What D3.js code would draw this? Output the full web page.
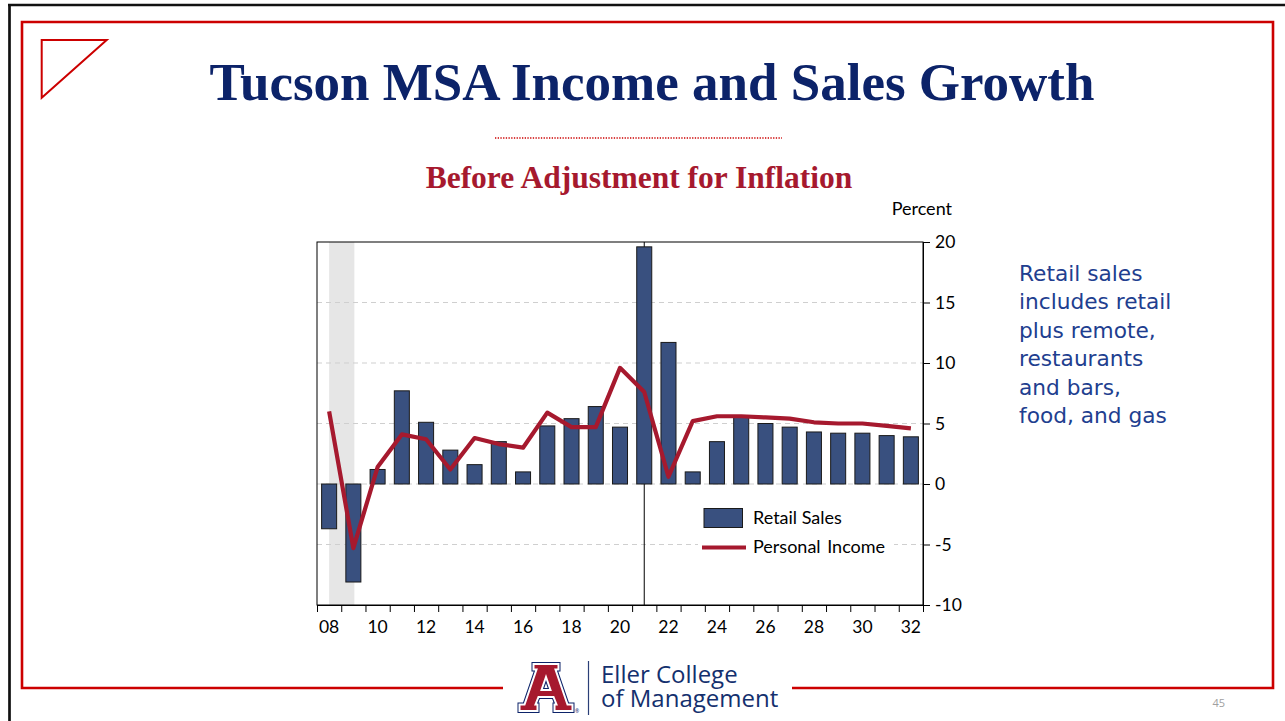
<!DOCTYPE html>
<html>
<head>
<meta charset="utf-8">
<script src="https://cdn.jsdelivr.net/npm/d3@7"></script>
<style>
  html, body { margin: 0; padding: 0; background: #fff; }
  svg { display: block; }
</style>
</head>
<body>
<svg id="slide" width="1285" height="721"></svg>
<script>
// Annual growth, percent (2008–2032; 2022 onward is forecast)
const years = d3.range(2008, 2033);
const retailSales = [-3.7, -8.1, 1.2, 7.7, 5.1, 2.8, 1.6, 3.5, 1.0, 4.8, 5.4, 6.4, 4.7,
  19.6, 11.7, 1.0, 3.5, 5.5, 5.0, 4.7, 4.3, 4.2, 4.2, 4.0, 3.9];
const personalIncome = [6.0, -5.3, 1.4, 4.1, 3.7, 1.2, 3.8, 3.3, 3.0, 5.9, 4.7, 4.7, 9.6,
  7.6, 0.6, 5.2, 5.6, 5.6, 5.5, 5.4, 5.1, 5.0, 5.0, 4.8, 4.6];
const yTicks = [-10, -5, 0, 5, 10, 15, 20];
const xLabelYears = d3.range(2008, 2033, 2);
const recession = [2008, 2009];
const forecastMark = 2021;
const notes = ["Retail sales", "includes retail", "plus remote,", "restaurants", "and bars,", "food, and gas"];
const wordmark = ["Eller College", "of Management"];

const NAVY = "#0c2369";
const CRIMSON = "#a6192e";
const FRAME_RED = "#cc0000";
const BAR = "#39507f";
const AXIS_FONT = "Lato, 'Open Sans', sans-serif";
const AXIS_SIZE = 17.5;

const svg = d3.select("#slide");

// ---- slide frame ----
svg.append("path")
  .attr("d", "M8,5 H1285 M9.5,5 V721")
  .attr("stroke", "#111").attr("stroke-width", 2.7).attr("fill", "none");

svg.append("path")
  .attr("d", "M503,688 H22 V22 H1273 V688 H792")
  .attr("stroke", FRAME_RED).attr("stroke-width", 2.6).attr("fill", "none");

svg.append("path")
  .attr("d", "M41.7,40 L106.7,40 L41.7,97.7 Z")
  .attr("stroke", FRAME_RED).attr("stroke-width", 2).attr("fill", "none");

// ---- titles ----
svg.append("text")
  .attr("x", 652).attr("y", 100)
  .attr("text-anchor", "middle")
  .attr("font-family", "'Liberation Serif', 'Times New Roman', serif")
  .attr("font-weight", "bold").attr("font-size", 53)
  .attr("fill", NAVY)
  .text("Tucson MSA Income and Sales Growth");

svg.append("line")
  .attr("x1", 495).attr("x2", 782).attr("y1", 138).attr("y2", 138)
  .attr("stroke", FRAME_RED).attr("stroke-width", 1.3)
  .attr("stroke-dasharray", "1.3,1.4");

svg.append("text")
  .attr("x", 639).attr("y", 188)
  .attr("text-anchor", "middle")
  .attr("font-family", "'Liberation Serif', 'Times New Roman', serif")
  .attr("font-weight", "bold").attr("font-size", 31.5)
  .attr("fill", CRIMSON)
  .text("Before Adjustment for Inflation");

// ---- chart ----
const plotLeft = 317, plotRight = 923, plotTop = 242, plotBottom = 605;

const x = d3.scaleBand().domain(years).range([plotLeft, plotRight]).padding(0);
const step = x.step();
const barW = step * 0.62;
const cx = d => x(d) + step / 2;

const y = d3.scaleLinear().domain([-10, 20]).range([plotBottom, plotTop]);

const chart = svg.append("g");

// recession shading
chart.append("rect")
  .attr("x", cx(recession[0]))
  .attr("y", plotTop)
  .attr("width", cx(recession[1]) - cx(recession[0]) + 1)
  .attr("height", plotBottom - plotTop)
  .attr("fill", "#e6e6e6");

// dashed gridlines
chart.append("g")
  .selectAll("line")
  .data(yTicks.filter(t => t > -10 && t < 20))
  .join("line")
  .attr("x1", plotLeft).attr("x2", plotRight)
  .attr("y1", d => y(d)).attr("y2", d => y(d))
  .attr("stroke", "#cfcfcf").attr("stroke-width", 1)
  .attr("stroke-dasharray", "5,4");

// plot frame
chart.append("rect")
  .attr("x", plotLeft).attr("y", plotTop)
  .attr("width", plotRight - plotLeft).attr("height", plotBottom - plotTop)
  .attr("fill", "none").attr("stroke", "#000").attr("stroke-width", 1);

// forecast divider
chart.append("line")
  .attr("x1", cx(forecastMark)).attr("x2", cx(forecastMark))
  .attr("y1", plotTop).attr("y2", plotBottom)
  .attr("stroke", "#000").attr("stroke-width", 1);

// retail sales bars
chart.append("g")
  .selectAll("rect")
  .data(years.map((yr, i) => ({ yr, v: retailSales[i] })))
  .join("rect")
  .attr("x", d => cx(d.yr) - barW / 2)
  .attr("width", barW)
  .attr("y", d => y(Math.max(0, d.v)))
  .attr("height", d => Math.abs(y(d.v) - y(0)))
  .attr("fill", BAR)
  .attr("stroke", "#1a1a1a").attr("stroke-width", 1);

// personal income line
const line = d3.line().x(d => cx(d.yr)).y(d => y(d.v));
chart.append("path")
  .datum(years.map((yr, i) => ({ yr, v: personalIncome[i] })))
  .attr("d", line)
  .attr("fill", "none")
  .attr("stroke", CRIMSON).attr("stroke-width", 4.2)
  .attr("stroke-linejoin", "round");

// right axis
const yAxis = chart.append("g")
  .attr("transform", `translate(${plotRight},0)`)
  .call(d3.axisRight(y).tickValues(yTicks).tickSize(7).tickPadding(5).tickFormat(d => String(d)));
yAxis.select(".domain").attr("stroke", "#000");
yAxis.selectAll("text").attr("font-family", AXIS_FONT).attr("font-size", AXIS_SIZE).attr("fill", "#000");

// bottom axis: ticks on year boundaries, labels under every other year
const tickYears = years.concat([years[years.length - 1] + 1]);
const xEdge = d3.scaleLinear().domain([years[0], years[years.length - 1] + 1]).range([plotLeft, plotRight]);
const xAxisTicks = chart.append("g")
  .attr("transform", `translate(0,${plotBottom})`)
  .call(d3.axisBottom(xEdge).tickValues(tickYears).tickSize(7).tickFormat(""));
xAxisTicks.select(".domain").attr("stroke", "#000");

const xAxisLabels = chart.append("g")
  .attr("transform", `translate(0,${plotBottom})`)
  .call(d3.axisBottom(x).tickValues(xLabelYears).tickSize(0).tickPadding(16)
    .tickFormat(d => String(d).slice(2)));
xAxisLabels.select(".domain").remove();
xAxisLabels.selectAll("text").attr("font-family", AXIS_FONT).attr("font-size", AXIS_SIZE).attr("fill", "#000");

svg.append("text")
  .attr("x", 952).attr("y", 215)
  .attr("text-anchor", "end")
  .attr("font-family", AXIS_FONT).attr("font-size", 18).attr("fill", "#000")
  .text("Percent");

// legend
const legend = svg.append("g");
legend.append("rect")
  .attr("x", 698).attr("y", 503).attr("width", 196).attr("height", 58)
  .attr("fill", "#fff");
legend.append("rect")
  .attr("x", 704).attr("y", 508.5).attr("width", 38.5).attr("height", 19)
  .attr("fill", BAR).attr("stroke", "#1a1a1a").attr("stroke-width", 1);
legend.append("text")
  .attr("x", 753).attr("y", 524)
  .attr("font-family", AXIS_FONT).attr("font-size", 18).attr("fill", "#000")
  .text("Retail Sales");
legend.append("line")
  .attr("x1", 702).attr("x2", 746).attr("y1", 547.5).attr("y2", 547.5)
  .attr("stroke", CRIMSON).attr("stroke-width", 4.2);
legend.append("text")
  .attr("x", 753).attr("y", 552.5)
  .attr("font-family", AXIS_FONT).attr("font-size", 18).attr("fill", "#000")
  .attr("word-spacing", 2)
  .text("Personal Income");

// side note
svg.append("g")
  .selectAll("text")
  .data(notes)
  .join("text")
  .attr("x", 1019)
  .attr("y", (d, i) => 281 + i * 28.4)
  .attr("font-family", "'DejaVu Sans', Verdana, sans-serif")
  .attr("font-size", 21.7)
  .attr("fill", "#213e8f")
  .text(d => d);

// ---- college wordmark ----
const logo = svg.append("g");
const aShape = "M533.5,664 H558.5 V669.5 H555.5 L567.5,704.5 H572.5 V711 H554.5 V704.5 H556.5 L553.5,697 H538.5 L535.5,704.5 H537.5 V711 H519.5 V704.5 H524.5 L536.5,669.5 H533.5 Z " +
               "M546,677 L550.5,690 H541.5 Z";
logo.append("path").attr("d", aShape).attr("fill", "#0c2369").attr("fill-rule", "evenodd")
  .attr("stroke", "#0c2369").attr("stroke-width", 4).attr("stroke-linejoin", "miter");
logo.append("path").attr("d", aShape).attr("fill", CRIMSON).attr("fill-rule", "evenodd")
  .attr("stroke", "#fff").attr("stroke-width", 2).attr("stroke-linejoin", "miter");
logo.append("text").attr("x", 575).attr("y", 713)
  .attr("font-family", "'Open Sans', sans-serif").attr("font-size", 5).attr("fill", "#0c2369").text("®");
logo.append("line").attr("x1", 588.5).attr("x2", 588.5).attr("y1", 661).attr("y2", 715)
  .attr("stroke", "#2b3f77").attr("stroke-width", 1.2);
logo.append("text")
  .attr("font-family", "'Open Sans', sans-serif").attr("font-size", 24).attr("fill", "#14306e")
  .selectAll("tspan")
  .data(wordmark)
  .join("tspan")
  .attr("x", 601)
  .attr("y", (d, i) => 683 + i * 23.5)
  .text(d => d);

// page number
svg.append("text")
  .attr("x", 1225).attr("y", 707)
  .attr("text-anchor", "end")
  .attr("font-family", "'Open Sans', sans-serif").attr("font-size", 11).attr("fill", "#a0a0a0")
  .text("45");
</script>
</body>
</html>
